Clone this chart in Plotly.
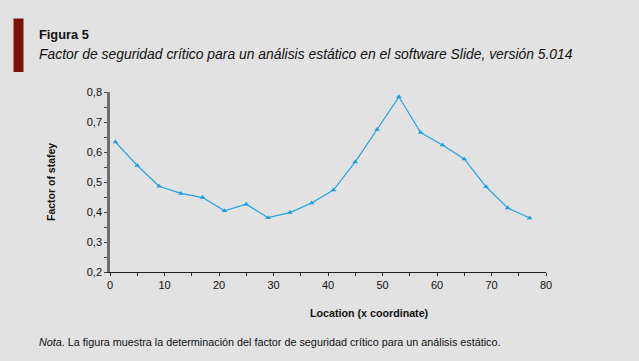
import plotly.graph_objects as go

x_loc = [1, 5, 9, 13, 17, 21, 25, 29, 33, 37, 41, 45, 49, 53, 57, 61, 65, 69, 73, 77]
fos = [0.633, 0.555, 0.486, 0.462, 0.448, 0.404, 0.426, 0.381, 0.398, 0.430,
       0.473, 0.567, 0.675, 0.784, 0.665, 0.623, 0.577, 0.484, 0.413, 0.380]
y_ticks = [0.2, 0.3, 0.4, 0.5, 0.6, 0.7, 0.8]
x_ticks = [0, 10, 20, 30, 40, 50, 60, 70, 80]

W, H = 639, 361
L, R, T, B = 110, 546, 92, 272
pw, ph = R - L, B - T

def px(x):
    return (x - L) / pw

def py(y):
    return (B - y) / ph

BG = "#e2e2e2"
FONT = "Liberation Sans, Arial, sans-serif"

fig = go.Figure()
fig.add_trace(go.Scatter(
    x=x_loc, y=fos, mode="lines+markers",
    line=dict(color="#23a3e3", width=1.2),
    marker=dict(symbol="triangle-up", size=5, color="#1f9ee0"),
    showlegend=False,
))

fig.update_layout(
    width=W, height=H,
    margin=dict(l=L, r=W - R, t=T, b=H - B, autoexpand=False),
    paper_bgcolor=BG, plot_bgcolor=BG,
    separators=", ",
    font=dict(family=FONT, size=11, color="#111111"),
    xaxis=dict(
        range=[0, 80], tickvals=x_ticks, ticks="outside", ticklen=3,
        tickcolor="#222222", showline=True, linecolor="#222222", linewidth=1.2,
        showgrid=False, zeroline=False, tickfont=dict(size=11, color="#111111"),
        minor=dict(dtick=5, tick0=0, ticks="outside", ticklen=3, tickcolor="#222222"),
    ),
    yaxis=dict(
        range=[0.2, 0.8], tickvals=y_ticks, tickformat=".1f", ticks="outside", ticklen=3,
        tickcolor="#444444", showline=True, linecolor="#6e6e6e", linewidth=2.5,
        showgrid=False, zeroline=False, tickfont=dict(size=11, color="#111111"),
        minor=dict(dtick=0.05, tick0=0.2, ticks="outside", ticklen=3, tickcolor="#444444"),
    ),
)

fig.add_shape(type="rect", xref="paper", yref="paper",
              x0=px(13.5), x1=px(23.5), y0=py(72), y1=py(18.5),
              fillcolor="#7a1207", line=dict(width=0))

ann = [
    dict(text="<b>Figura 5</b>", x=px(36.5), y=py(34.5), size=12.8),
    dict(text="<i>Factor de seguridad crítico para un análisis estático en el software Slide, versión 5.014</i>",
         x=px(36.5), y=py(54), size=13.9),
    dict(text="<i>Nota</i>. La figura muestra la determinación del factor de seguridad crítico para un análisis estático.",
         x=px(37), y=py(341.5), size=10.8),
]
for a in ann:
    fig.add_annotation(text=a["text"], xref="paper", yref="paper", x=a["x"], y=a["y"],
                       xanchor="left", yanchor="middle", showarrow=False,
                       font=dict(family=FONT, size=a["size"], color="#111111"))

fig.add_annotation(text="<b>Location (x coordinate)</b>", xref="paper", yref="paper",
                   x=px(369), y=py(313), xanchor="center", yanchor="middle", showarrow=False,
                   font=dict(family=FONT, size=10.7, color="#111111"))
fig.add_annotation(text="<b>Factor of stafey</b>", xref="paper", yref="paper",
                   x=px(51), y=py(182), xanchor="center", yanchor="middle", showarrow=False,
                   textangle=-90, font=dict(family=FONT, size=10.5, color="#111111"))

fig.write_html("out.html",
               config={"displayModeBar": False},
               post_script="document.body.style.margin='0';document.body.style.background='#e2e2e2';")
